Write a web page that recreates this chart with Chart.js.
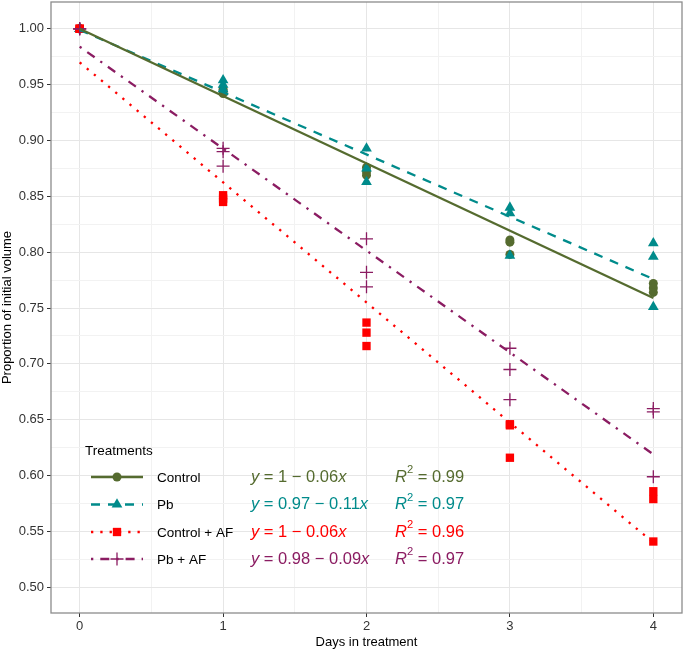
<!DOCTYPE html>
<html>
<head>
<meta charset="utf-8">
<script src="https://cdn.jsdelivr.net/npm/chart.js@4.4.1/dist/chart.umd.min.js"></script>
<style>
  body { margin: 0; background: #fff; }
  canvas { display: block; }
</style>
</head>
<body>
<canvas id="chart" width="685" height="652"></canvas>
<script>
// data (3 replicates per day)
const days = [0, 0, 0, 1, 1, 1, 2, 2, 2, 3, 3, 3, 4, 4, 4];
const treatments = ["Control", "Pb", "Control + AF", "Pb + AF"];
const controlVals = [1, 1, 1, 0.946, 0.944, 0.942, 0.876, 0.872, 0.869, 0.811, 0.809, 0.798, 0.772, 0.768, 0.764];
const pbVals = [1, 1, 1, 0.954, 0.950, 0.946, 0.893, 0.875, 0.863, 0.840, 0.835, 0.797, 0.808, 0.796, 0.751];
const controlAfVals = [1, 1, 1, 0.851, 0.848, 0.845, 0.737, 0.728, 0.716, 0.646, 0.645, 0.616, 0.586, 0.579, 0.541];
const pbAfVals = [1, 1, 1, 0.893, 0.890, 0.877, 0.812, 0.782, 0.769, 0.714, 0.695, 0.668, 0.660, 0.657, 0.599];

// fitted lines: value at day 0 and day 4
const fitDays = [0, 4];
const fitStart = [1.0, 0.999, 0.970, 0.984];
const fitEnd = [0.759, 0.776, 0.540, 0.619];

// equation labels
const eqText = ["1 \u2212 0.06", "0.97 \u2212 0.11", "1 \u2212 0.06", "0.98 \u2212 0.09"];
const r2Text = ["0.99", "0.97", "0.96", "0.97"];

// axis ticks
const xTicks = [0, 0.5, 1, 1.5, 2, 2.5, 3, 3.5, 4];
const yTicks = [0.5, 0.525, 0.55, 0.575, 0.6, 0.625, 0.65, 0.675, 0.7, 0.725, 0.75, 0.775, 0.8, 0.825, 0.85, 0.875, 0.9, 0.925, 0.95, 0.975, 1.0];

const colors = ["#556B2F", "#008B8B", "#FF0000", "#8B1C62"];
const shapes = ["circle", "triangle", "rect", "cross"];
const radii = [4.5, 6.2, 5.9, 6.5];
const dashes = [[], [9, 8], [2.3, 7], [2.3, 7, 9, 7]];
const FONT = "'Liberation Sans', Arial, sans-serif";

const allVals = [controlVals, pbVals, controlAfVals, pbAfVals];

const isMajorY = v => Math.abs(v * 20 - Math.round(v * 20)) < 1e-6;
const isMajorX = v => Math.abs(v - Math.round(v)) < 1e-6;

const datasets = [];
// fit lines on top
treatments.forEach((t, i) => {
  datasets.push({
    type: "line",
    label: t + " fit",
    data: fitDays.map((d, k) => ({ x: d, y: k === 0 ? fitStart[i] : fitEnd[i] })),
    borderColor: colors[i],
    borderWidth: 2.3,
    borderDash: dashes[i],
    borderCapStyle: "butt",
    pointRadius: 0,
    fill: false,
    order: 0
  });
});
// points
treatments.forEach((t, i) => {
  datasets.push({
    type: "scatter",
    label: t,
    data: days.map((d, k) => ({ x: d, y: allVals[i][k] })),
    pointStyle: shapes[i],
    pointRadius: radii[i],
    backgroundColor: colors[i],
    borderColor: colors[i],
    borderWidth: shapes[i] === "cross" ? 1.3 : 0,
    order: 4 - i
  });
});

function drawParts(ctx, x, y, parts, size, color) {
  ctx.fillStyle = color;
  ctx.textBaseline = "middle";
  ctx.textAlign = "left";
  parts.forEach(p => {
    const s = p.sup ? size * 0.68 : size;
    ctx.font = (p.i ? "italic " : "") + s + "px " + FONT;
    ctx.fillText(p.t, x, p.sup ? y - size * 0.42 : y);
    x += ctx.measureText(p.t).width;
  });
}

function drawMarker(ctx, i, x, y) {
  Chart.helpers.drawPoint(ctx, {
    pointStyle: shapes[i],
    radius: radii[i],
    borderWidth: shapes[i] === "cross" ? 1.3 : 0
  }, x, y);
}

// legend with equations inside the panel
const legendPlugin = {
  id: "treatLegend",
  afterDraw(chart) {
    const ctx = chart.ctx;
    ctx.save();
    ctx.fillStyle = "#000";
    ctx.font = "13.5px " + FONT;
    ctx.textBaseline = "middle";
    ctx.fillText("Treatments", 85, 451);
    const rows = [477, 504.5, 532, 559];
    treatments.forEach((t, i) => {
      const y = rows[i];
      ctx.strokeStyle = colors[i];
      ctx.fillStyle = colors[i];
      ctx.lineWidth = 2.3;
      ctx.lineCap = "butt";
      ctx.setLineDash(dashes[i]);
      ctx.beginPath();
      ctx.moveTo(91, y);
      ctx.lineTo(143, y);
      ctx.stroke();
      ctx.setLineDash([]);
      ctx.lineWidth = 1.3;
      drawMarker(ctx, i, 117, y);
      ctx.fillStyle = "#000";
      ctx.font = "13.5px " + FONT;
      ctx.fillText(t, 157, y + 1);
      drawParts(ctx, 251, y, [{ t: "y", i: 1 }, { t: " = " + eqText[i] }, { t: "x", i: 1 }], 16.5, colors[i]);
      drawParts(ctx, 395, y, [{ t: "R", i: 1 }, { t: "2", sup: 1 }, { t: " = " + r2Text[i] }], 16.5, colors[i]);
    });
    ctx.restore();
  }
};

const framePlugin = {
  id: "frame",
  afterDatasetsDraw(chart) {
    const a = chart.chartArea;
    const ctx = chart.ctx;
    ctx.save();
    ctx.strokeStyle = "#8c8c8c";
    ctx.lineWidth = 1.3;
    ctx.strokeRect(a.left, a.top, a.right - a.left, a.bottom - a.top);
    ctx.restore();
  }
};

new Chart(document.getElementById("chart"), {
  data: { datasets },
  options: {
    responsive: false,
    animation: false,
    layout: { autoPadding: false, padding: { top: 2, right: 3, left: 0, bottom: 0 } },
    plugins: { legend: { display: false }, tooltip: { enabled: false } },
    scales: {
      x: {
        type: "linear",
        min: -0.2,
        max: 4.2,
        afterBuildTicks: axis => { axis.ticks = xTicks.map(v => ({ value: v })); },
        afterFit: axis => {
          axis.height = 39;
          axis.paddingLeft = 0;
          axis.paddingRight = 0;
        },
        ticks: {
          autoSkip: false,
          maxRotation: 0,
          padding: 2,
          color: "#333",
          font: { family: FONT, size: 13 },
          callback: v => isMajorX(v) ? String(v) : ""
        },
        grid: {
          color: c => isMajorX(c.tick.value) ? "#e6e6e6" : "#f2f2f2",
          lineWidth: 1,
          tickLength: 4,
          tickColor: c => isMajorX(c.tick.value) ? "#333" : "rgba(0,0,0,0)"
        },
        border: { display: false },
        title: {
          display: true,
          text: "Days in treatment",
          color: "#000",
          font: { family: FONT, size: 13 },
          padding: { top: 0, bottom: 2 }
        }
      },
      y: {
        type: "linear",
        min: 0.477,
        max: 1.024,
        afterBuildTicks: axis => { axis.ticks = yTicks.map(v => ({ value: v })); },
        afterFit: axis => {
          axis.width = 51;
          axis.paddingTop = 0;
          axis.paddingBottom = 0;
        },
        ticks: {
          autoSkip: false,
          padding: 3,
          color: "#333",
          font: { family: FONT, size: 13 },
          callback: v => isMajorY(v) ? v.toFixed(2) : ""
        },
        grid: {
          color: c => isMajorY(c.tick.value) ? "#e6e6e6" : "#f2f2f2",
          lineWidth: 1,
          tickLength: 4,
          tickColor: c => isMajorY(c.tick.value) ? "#333" : "rgba(0,0,0,0)"
        },
        border: { display: false },
        title: {
          display: true,
          text: "Proportion of initial volume",
          color: "#000",
          font: { family: FONT, size: 13 },
          padding: { top: 0, bottom: 0 }
        }
      }
    }
  },
  plugins: [legendPlugin, framePlugin]
});
</script>
</body>
</html>
